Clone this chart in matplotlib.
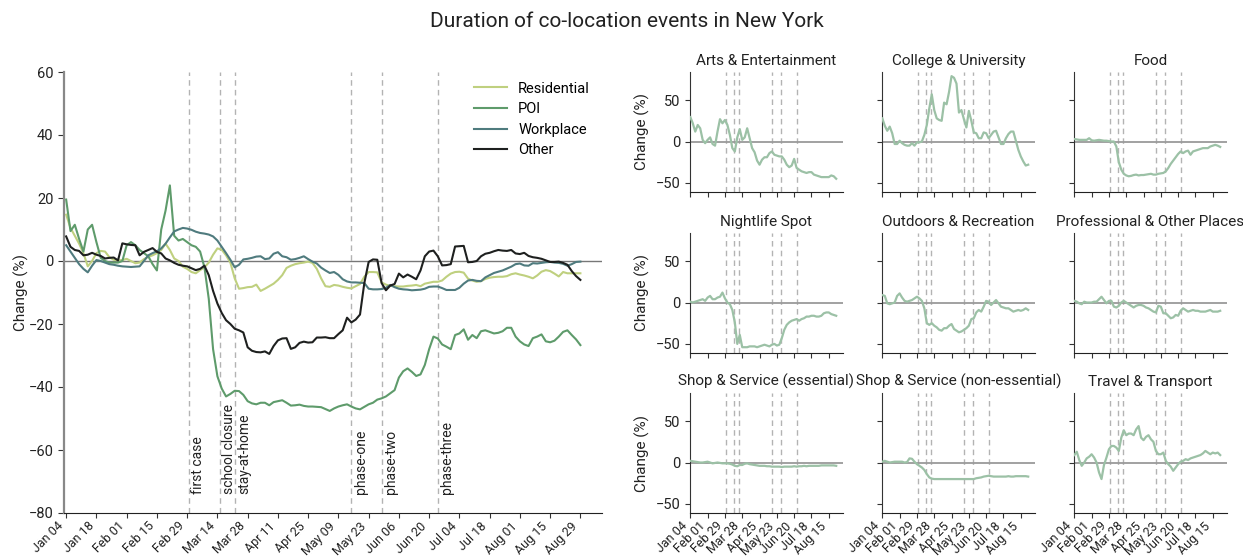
import numpy as np
import matplotlib
matplotlib.use("Agg")
import matplotlib.pyplot as plt
import matplotlib.dates as mdates

plt.rcParams['font.family'] = ['Roboto', 'DejaVu Sans']

# ---------------- data ----------------
# overall series: every second day, Jan 04 .. Aug 29 2020
series_dates = np.arange(np.datetime64('2020-01-04'), np.datetime64('2020-08-30'), 2)

residential = [
    14.7, 10.5, 8, 5.5, 2.5, -1.7, 0, 2.5, 3.2, 3,
    1.2, 0.4, 0.2, 0.3, 0.7, 0, -0.7, -0.5, 0.6, 1.3,
    1.8, 2.5, 3.5, 5.5, 3.5, 0.8, 0, -1.8, -2.5, -3.5,
    -3.9, -2.9, -2, -0.5, 2, 4, 3.6, 1.8, -0.5, -5.5,
    -8.8, -8.6, -8.3, -8.2, -7.5, -9.5, -8.8, -8, -7.2, -6,
    -4.5, -2.2, -1.5, -1, -0.7, -0.5, -0.2, -0.6, -2.5, -5.5,
    -8, -8.2, -7.6, -7.8, -8.2, -8.5, -8.7, -8, -7.3, -5,
    -3.5, -3.5, -3.6, -6.8, -7.5, -7.9, -8, -8.1, -8.1, -7.9,
    -7.8, -7.6, -8, -7.2, -6.9, -6.6, -6.6, -6.2, -5, -4,
    -3.5, -3.4, -3.7, -5.6, -6.2, -6.6, -6.4, -5.7, -5.3, -5.1,
    -5, -5, -4.8, -4.2, -3.9, -4.3, -4.6, -5, -5.5, -4.6,
    -3.4, -2.9, -3.2, -4, -4.9, -3.5, -3.9, -3.9, -3.9, -3.9,
]
poi = [
    19.5, 9.5, 11.5, 7, 3, 10, 11.5, 6, 1, 0,
    -0.5, -0.5, -0.5, 0, 5, 6, 5, 3.5, 2.5, 1.5,
    -1, -3, 10, 16, 24, 8, 6.5, 7, 6, 5,
    4.5, 3, -2, -12, -28, -36.6, -40.5, -43, -42.2, -41.2,
    -41.3, -42.5, -44.5, -45.2, -45.5, -45, -45, -45.8, -44.8, -44.5,
    -44.2, -45, -45.9, -45.8, -45.6, -46, -46.2, -46.2, -46.3, -46.4,
    -47, -47.6, -46.8, -46.2, -45.8, -45.5, -46.2, -46.8, -47.1, -46.3,
    -45.5, -45, -44, -43.6, -43, -42, -41, -37, -35, -34.1,
    -35.2, -36.5, -36, -33, -28, -24, -24.6, -26.5, -27.2, -28,
    -23.5, -23, -21.7, -25, -23.5, -24.5, -22.3, -22, -22.5, -23,
    -22.8, -22.3, -21.2, -21.2, -24, -25.5, -26.5, -27, -24.5, -24,
    -23.3, -25.5, -25.8, -25.3, -24, -22.5, -22, -23.5, -24.9, -26.7,
]
workplace = [
    5, 3, 1, -1, -2.5, -3.6, -1.5, 0.3, 0, -0.5,
    -1, -1.2, -1.5, -1.7, -1.8, -1.9, -1.8, -1.7, 0, 1.8,
    2.5, 3.1, 4, 5.5, 7.5, 9.4, 10, 10.5, 10.3, 9.9,
    9.3, 8.9, 8.7, 8.4, 7.8, 6.5, 4.5, 2.5, 0.4, -2,
    -1.2, 0.5, 0.7, 1, 1.4, 1.5, 0.6, 0.8, 2.3, 2.8,
    1.5, 1.2, 0.4, 0.6, 1, 1.5, 0.6, -0.2, -0.8, -2.1,
    -3, -3.8, -3.5, -4.4, -5.8, -6.5, -6.8, -6.8, -6.9, -7,
    -8.8, -9, -9, -8.9, -8.5, -7.6, -8.3, -8.8, -9, -9.1,
    -9.3, -9.2, -9.1, -8.8, -8.2, -8.1, -8.1, -8.6, -9.2, -9.2,
    -9.2, -8.5, -7.2, -6.2, -6, -6.3, -6.4, -5.2, -4.5, -3.8,
    -3.4, -3, -2.4, -1.8, -1, -0.8, -1.4, -1.5, -0.7, -0.8,
    -0.6, -0.4, -0.3, -0.5, -0.6, -0.9, -1.5, -1, -0.3, -0.2,
]
other = [
    7.8, 4.5, 3.5, 3.2, 1.8, 2, 2.6, 2, 1.6, 0.8,
    1, 1.1, 0.2, 5.6, 5.3, 5.1, 5, 1.8, 2.9, 3.5,
    4.1, 2.9, 2.4, 0.8, 0.2, -0.6, -1.2, -1.5, -1.7, -2.3,
    -2.9, -2.5, -1.5, -4.5, -9.5, -13.5, -16.5, -18.8, -20, -21.5,
    -22, -22.7, -27.4, -28.5, -28.9, -29, -28.7, -29.5, -27, -25.2,
    -24.6, -24.5, -27.9, -27.4, -26, -25.6, -25.9, -25.8, -24.3, -24.3,
    -24.2, -24.5, -24.5, -23.2, -22, -18, -19.5, -18.6, -17, -7,
    -0.3, 0.5, 0.4, -7, -9.3, -7.8, -7.3, -4, -5.2, -4.3,
    -5, -5.8, -3, 1.5, 3, 3.3, 1.5, -1.4, -1.3, -1,
    4.6, 4.7, 4.8, -0.4, -0.3, 0, 1.5, 2.3, 2.6, 3.1,
    3.5, 3.3, 3.2, 3.5, 2.4, 2.2, 2.6, 1.6, 1.2, 1,
    0.7, 0.2, -0.3, -0.3, -0.2, -0.6, -1.2, -3.2, -4.8, -6,
]
series_names = ['Residential', 'POI', 'Workplace', 'Other']

# venue categories: every fourth day, Jan 04 .. Aug 27 2020
category_dates = np.arange(np.datetime64('2020-01-04'), np.datetime64('2020-08-28'), 4)
categories = ['Arts & Entertainment', 'College & University', 'Food',
              'Nightlife Spot', 'Outdoors & Recreation', 'Professional & Other Places',
              'Shop & Service (essential)', 'Shop & Service (non-essential)',
              'Travel & Transport']
arts = [29.5, 22, 12, 20, 16, 2, -2, 2, 5, -3,
        -5, 12, 27, 22, 26, 20, 8, -8, -12, 5,
        15, 2, 5, 16, 4, -8, -13, -23, -28, -22,
        -19, -19, -14, -12, -16, -17, -18, -18, -22, -28,
        -31, -29, -21, -32, -34, -36, -37, -38, -37, -37,
        -40, -41, -42, -43, -43, -43, -43, -41, -42, -45]
college = [28, 19, 13, 18, 10, -3, -3, 1, -2, -4,
           -5, -5, -2, -5, -1, -1, 0, 8, 20, 40,
           57, 38, 28, 26, 25, 47, 45, 60, 79, 77,
           70, 35, 38, 27, 17, 37, 25, 11, 10, 4,
           4, 11, 10, 4, 8, 12, 13, 5, -3, -3,
           4, 9, 12, 12, 1, -10, -18, -24, -29, -28]
food = [3, 2.5, 2, 2, 2, 2, 4, 1.5, 1, 1.5,
        2, 1.5, 1, 1, 0.5, 0, 0, -6, -25, -34,
        -39, -41, -42, -41.5, -40.5, -40, -41, -40.5, -40.5, -40,
        -39.5, -39, -40, -40, -39, -38.5, -38, -36, -32, -27,
        -23, -19, -15, -12, -14, -12, -11, -16, -12, -11,
        -10, -9, -8, -8, -8, -6, -5, -4, -5, -6.5]
nightlife = [1, 0, 1, 2, 3, 4, 2, 6, 8, 4,
             4, 6, 7, 12, 5, 0, -2, -9, -24, -50,
             -39, -54, -54, -54, -53, -53, -53, -54, -53, -52,
             -51, -52, -53, -51, -50, -52, -51, -43, -33, -27,
             -24, -22, -21, -20, -22, -20, -19, -17, -17, -16,
             -16, -17, -17, -16, -13, -12, -12, -14, -15, -16]
outdoors = [9, 8, -1, -2, -1, 0, 8, 11, 6, 2,
            1, 2, 3, 5, 7, 5, 2, -7, -25, -27,
            -25, -28, -30, -33, -34, -31, -31, -28, -26, -32,
            -34, -36, -35, -33, -31, -28, -20, -19, -12, -9,
            -11, -5, 2, 1, -3, 0, 3, -1, -5, -6,
            -7, -7, -9, -11, -10, -9, -10, -9, -7, -9]
professional = [2, 1, -1, -2, 1, 0, 0, 0, 1, 1,
                4, 7, 3, -1, 2, 2, -5, -6, -4, 0,
                2, 0, -2, -4, -6, -4, -3, -3, -4, -6,
                -7, -9, -11, -12, -4, -5, -13, -13, -16, -19,
                -18, -15, -16, -10, -7, -9, -11, -10, -9, -10,
                -10, -11, -11, -11, -10, -9, -11, -11, -11, -10]
shop_essential = [2, 1.5, 1, 0.5, 0, 0, 0.5, 1, 0, -1,
                  -0.5, 0, -0.5, -1, -1, -1, -1.5, -2.5, -4, -4.5,
                  -3, -3, -1.5, -1, -2, -2.5, -3, -3.5, -4, -4,
                  -4, -4.5, -4.5, -5, -5, -5, -5, -5.5, -5, -5,
                  -5, -5, -4.5, -5, -4.5, -4.5, -4, -4.5, -4, -4,
                  -4, -4, -4, -3.5, -3.5, -3.5, -3.5, -3.5, -3.5, -4]
shop_nonessential = [1, 2, 1, 0, 0.5, 1, 1, 1, 1, 0,
                     0.5, 5, 4.5, 1, -2, -4, -6, -9, -14, -18,
                     -19.5, -20, -20, -20, -20, -20, -20, -20, -20, -20,
                     -20, -20, -20, -20, -20, -20, -20, -20, -19, -18.5,
                     -18, -17, -16.5, -16, -16.5, -17, -17, -17, -17, -17,
                     -17, -16.5, -17, -17, -16.5, -16.5, -16.5, -16.5, -16.5, -17]
travel = [9, 13, 3, -4, 0, 5, 7, 10, 6, 0,
          -12, -20, -3, 6, 16, 20, 20, 18, 14, 30,
          39, 33, 35, 35, 33, 40, 44, 30, 27, 31,
          33, 28, 25, 14, 10, 10, 12, 2, -2, -5,
          -10, -6, -2, 1, 2, 4, 3, 5, 6, 7,
          8, 9, 11, 14, 12, 10, 12, 11, 12, 9]

event_dates = np.array(['2020-03-01', '2020-03-15', '2020-03-22',
                        '2020-05-15', '2020-05-29', '2020-06-24'], dtype='datetime64[D]')
event_labels = ['first case', 'school closure', 'stay-at-home',
                'phase-one', 'phase-two', 'phase-three']

main_ticks = np.arange(np.datetime64('2020-01-04'), np.datetime64('2020-08-30'), 14)
small_ticks = np.arange(np.datetime64('2020-01-04'), np.datetime64('2020-08-16'), 28)

# ---------------- styling ----------------
W, H = 1243, 557
series_colors = ['#bfd07f', '#5e9b6b', '#4f7b7e', '#1e201f']
category_color = '#9cc1a6'
event_color = '#b3b3b3'
text_color = '#222222'


def px_axes(fig, left, top, right, bottom):
    return fig.add_axes([left / W, 1 - bottom / H, (right - left) / W, (bottom - top) / H])


def style_spines(a, left_color='#333333'):
    a.spines[['top', 'right']].set_visible(False)
    a.spines['left'].set_color(left_color)
    a.spines['bottom'].set_color('#222222')
    a.tick_params(colors='#333333', labelcolor=text_color, length=4)


def rotate_dates(a, size):
    a.tick_params(axis='x', pad=1.2, length=3.5)
    for lab in a.get_xticklabels():
        lab.set_rotation(45)
        lab.set_ha('right')
        lab.set_fontsize(size)


fig = plt.figure(figsize=(W / 100, H / 100), dpi=100)
fig.text(0.504, 0.962, 'Duration of co-location events in New York',
         ha='center', va='center', fontsize=15, color=text_color)

# ---------------- overall panel ----------------
ax = px_axes(fig, 64, 72, 602, 513)
for d in event_dates:
    ax.axvline(d, color=event_color, ls=(0, (4, 3)), lw=1, zorder=1)
for d, lab in zip(event_dates, event_labels):
    ax.text(d + np.timedelta64(1, 'D'), -74, lab, rotation=90, ha='left', va='bottom',
            fontsize=10, color=text_color)
ax.axhline(0, color='#777777', lw=1, zorder=1)
for vals, name, col in zip([residential, poi, workplace, other], series_names, series_colors):
    ax.plot(series_dates, vals, color=col, lw=1.5, label=name, zorder=3)

ax.set_ylim(-80, 60)
ax.set_yticks(np.arange(-80, 61, 20))
ax.set_xlim(mdates.date2num(np.datetime64('2020-01-03')), mdates.date2num(np.datetime64('2020-09-08')))
ax.set_xticks(main_ticks)
ax.xaxis.set_major_formatter(mdates.DateFormatter('%b %d'))
style_spines(ax, left_color='#888888')
ax.spines['left'].set_linewidth(1.6)
ax.tick_params(axis='y', labelsize=10.5)
rotate_dates(ax, 9)
ax.set_ylabel('Change (%)', fontsize=11, color=text_color, labelpad=0)
ax.legend(loc='upper right', frameon=False, fontsize=10.5,
          handlelength=2.2, handletextpad=0.8, labelspacing=0.45,
          bbox_to_anchor=(1.002, 1.008))

# ---------------- category panels ----------------
col_left = [690, 882, 1074]
row_top = [72, 233, 393]
panel_w, panel_h = 153, 120
category_values = [arts, college, food, nightlife, outdoors, professional,
                   shop_essential, shop_nonessential, travel]

for i, (name, vals) in enumerate(zip(categories, category_values)):
    r, c = divmod(i, 3)
    a = px_axes(fig, col_left[c], row_top[r], col_left[c] + panel_w, row_top[r] + panel_h)
    for d in event_dates:
        a.axvline(d, color=event_color, ls=(0, (4, 3)), lw=1, zorder=1)
    a.axhline(0, color='#9a9a9a', lw=1.3, zorder=1)
    a.plot(category_dates, vals, color=category_color, lw=1.6, zorder=3)
    a.set_ylim(-61, 84)
    a.set_yticks([-50, 0, 50])
    a.set_xlim(mdates.date2num(np.datetime64('2020-01-03')) + 0.5,
               mdates.date2num(np.datetime64('2020-09-07')))
    a.set_xticks(small_ticks)
    a.xaxis.set_major_formatter(mdates.DateFormatter('%b %d'))
    style_spines(a)
    a.tick_params(labelsize=10.5, length=3.5)
    a.set_title(name, fontsize=11, color=text_color, pad=5)
    if c == 0:
        a.set_ylabel('Change (%)', fontsize=11, color=text_color, labelpad=4)
    else:
        a.tick_params(axis='y', labelleft=False)
    if r == 2:
        rotate_dates(a, 9)
    else:
        a.tick_params(axis='x', labelbottom=False)

fig.savefig('out.png', dpi=100)
